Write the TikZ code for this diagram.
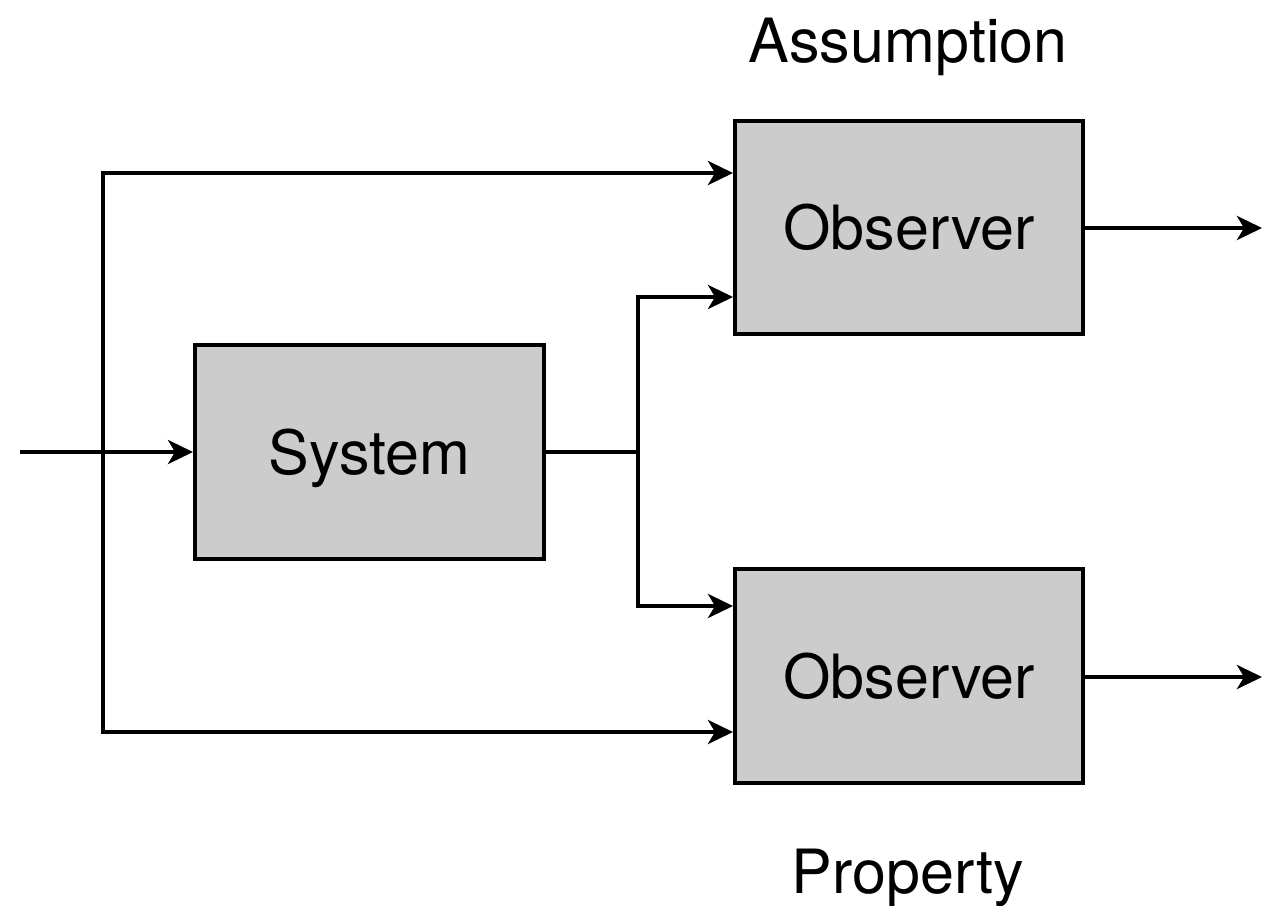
\documentclass[tikz,border=0pt]{standalone}
\usepackage{fontspec}
\setmainfont{TeX Gyre Heros}
\usetikzlibrary{arrows.meta}
\begin{document}
\begin{tikzpicture}[x=1pt,y=-1pt,
  line width=4pt, line join=miter,
  blk/.style={draw=black, fill=boxgray, line width=4pt, inner sep=0pt,
    font=\fontsize{61}{70}\selectfont, text height=44pt, text depth=0pt},
  lbl/.style={font=\fontsize{61}{70}\selectfont, inner sep=0pt, anchor=base},
  tip/.style={-{Stealth[length=25pt,width=24pt,inset=7pt]}},
  tips/.style={{Stealth[length=25pt,width=24pt,inset=7pt]}-{Stealth[length=25pt,width=24pt,inset=7pt]}}
]
\definecolor{boxgray}{HTML}{CCCCCC}
\useasboundingbox (0,0) rectangle (1274,905);

\node[blk, minimum width=349pt, minimum height=214pt] (sys) at (369.5,452) {System};
\node[blk, minimum width=348pt, minimum height=213pt] (obsA) at (909,227.5) {Observer};
\node[blk, minimum width=348pt, minimum height=214pt] (obsP) at (909,676) {Observer};

\node[lbl] (assum) at (908,62) {Assumption};
\node[lbl] (prop) at (908,893) {Property};

\coordinate (in) at (20,452);
\coordinate (tl) at (103,173);
\coordinate (bl) at (103,732);
\coordinate (br) at (638,452);
\coordinate (brT) at (638,297);
\coordinate (brB) at (638,606);
\coordinate (outA) at (1262,228);
\coordinate (outP) at (1262,677);

\draw[tip] (in) -- (sys.west);
\draw[tips] (obsA.west |- tl) -- (tl) -- (bl) -- (obsP.west |- bl);
\draw (sys.east) -- (br);
\draw[tips] (obsA.west |- brT) -- (brT) -- (brB) -- (obsP.west |- brB);
\draw[tip] (obsA.east |- outA) -- (outA);
\draw[tip] (obsP.east |- outP) -- (outP);
\end{tikzpicture}
\end{document}
